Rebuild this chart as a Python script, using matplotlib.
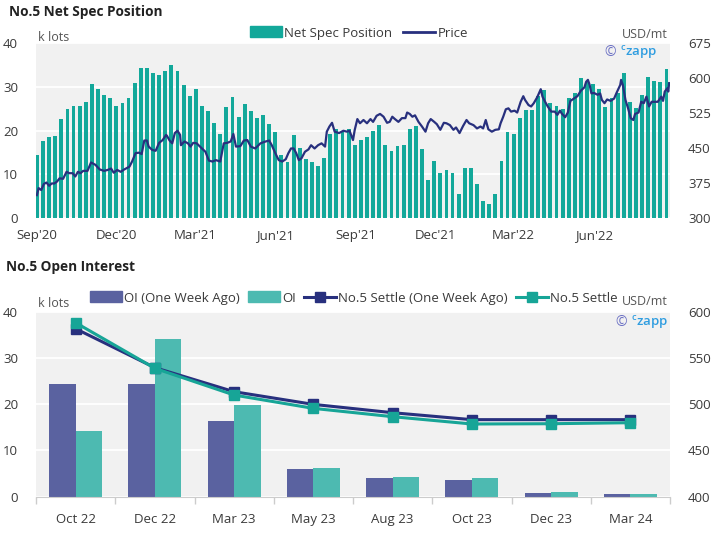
import numpy as np
import pandas as pd
import matplotlib
matplotlib.use('Agg')
import matplotlib.pyplot as plt
import matplotlib.dates as mdates
from matplotlib.patches import Patch
from matplotlib.lines import Line2D

plt.rcParams['font.family'] = ['Open Sans', 'DejaVu Sans']

# ---- top chart data: weekly net spec position (k lots), from 1 Sep 2020
spec_start = '2020-09-01'
net_spec = [14.3, 17.5, 18.6, 18.8, 22.7, 25.0, 25.7, 25.7, 26.6, 30.6,
            29.6, 28.2, 27.4, 25.7, 26.2, 27.4, 30.9, 34.4, 34.4, 33.1,
            32.7, 33.7, 35.0, 33.6, 30.5, 28.0, 29.4, 25.5, 24.5, 21.8,
            19.3, 25.3, 27.6, 23.0, 26.1, 24.5, 22.8, 23.5, 21.6, 19.7,
            14.5, 12.7, 19.0, 16.1, 13.6, 12.7, 11.8, 13.8, 19.1, 20.4,
            19.8, 20.3, 16.8, 17.8, 18.6, 20.0, 21.3, 16.8, 15.4, 16.5,
            16.8, 20.3, 21.0, 15.7, 8.7, 13.0, 10.2, 11.0, 10.4, 5.4,
            11.5, 11.5, 7.8, 3.9, 3.2, 5.4, 13.0, 19.7, 19.2, 22.8,
            24.7, 24.7, 28.0, 29.3, 26.2, 25.6, 24.9, 27.4, 28.6, 31.9,
            31.2, 30.6, 29.6, 25.4, 27.4, 28.5, 33.1, 26.6, 25.1, 28.1,
            32.2, 31.4, 31.2, 34.0]

# ---- price (USD/mt)
price_dates = [
    '2020-09-01', '2020-09-03', '2020-09-06', '2020-09-09', '2020-09-12', '2020-09-15',
    '2020-09-18', '2020-09-21', '2020-09-24', '2020-09-27', '2020-10-01', '2020-10-05',
    '2020-10-08', '2020-10-12', '2020-10-15', '2020-10-18', '2020-10-21', '2020-10-24',
    '2020-10-29', '2020-11-02', '2020-11-07', '2020-11-12', '2020-11-17', '2020-11-21',
    '2020-11-25', '2020-11-28', '2020-12-02', '2020-12-06', '2020-12-10', '2020-12-16',
    '2020-12-19', '2020-12-23', '2020-12-27', '2020-12-30', '2021-01-02', '2021-01-05',
    '2021-01-07', '2021-01-11', '2021-01-15', '2021-01-19', '2021-01-23', '2021-01-27',
    '2021-01-28', '2021-01-31', '2021-02-03', '2021-02-06', '2021-02-09', '2021-02-12',
    '2021-02-13', '2021-02-17', '2021-02-21', '2021-02-24', '2021-02-27', '2021-03-03',
    '2021-03-09', '2021-03-13', '2021-03-17', '2021-03-21', '2021-03-25', '2021-03-30',
    '2021-04-03', '2021-04-07', '2021-04-11', '2021-04-14', '2021-04-17', '2021-04-22',
    '2021-04-26', '2021-04-30', '2021-05-04', '2021-05-09', '2021-05-15', '2021-05-21',
    '2021-05-25', '2021-05-28', '2021-06-01', '2021-06-05', '2021-06-09', '2021-06-13',
    '2021-06-16', '2021-06-19', '2021-06-22', '2021-06-25', '2021-06-28', '2021-07-01',
    '2021-07-05', '2021-07-09', '2021-07-12', '2021-07-16', '2021-07-20', '2021-07-24',
    '2021-07-28', '2021-07-30', '2021-08-02', '2021-08-05', '2021-08-08', '2021-08-13',
    '2021-08-18', '2021-08-22', '2021-08-25', '2021-08-29', '2021-08-31', '2021-09-03',
    '2021-09-06', '2021-09-10', '2021-09-14', '2021-09-18', '2021-09-21', '2021-09-25',
    '2021-09-29', '2021-10-03', '2021-10-07', '2021-10-10', '2021-10-13', '2021-10-16',
    '2021-10-20', '2021-10-24', '2021-10-28', '2021-10-30', '2021-11-02', '2021-11-05',
    '2021-11-08', '2021-11-12', '2021-11-16', '2021-11-20', '2021-11-23', '2021-11-26',
    '2021-11-30', '2021-12-03', '2021-12-07', '2021-12-11', '2021-12-14', '2021-12-18',
    '2021-12-22', '2021-12-25', '2021-12-29', '2022-01-02', '2022-01-06', '2022-01-09',
    '2022-01-14', '2022-01-18', '2022-01-22', '2022-01-25', '2022-01-28', '2022-01-31',
    '2022-02-04', '2022-02-08', '2022-02-12', '2022-02-14', '2022-02-17', '2022-02-20',
    '2022-02-23', '2022-02-26', '2022-03-02', '2022-03-05', '2022-03-09', '2022-03-12',
    '2022-03-14', '2022-03-18', '2022-03-21', '2022-03-24', '2022-03-28', '2022-04-01',
    '2022-04-03', '2022-04-06', '2022-04-09', '2022-04-13', '2022-04-17', '2022-04-20',
    '2022-04-23', '2022-04-25', '2022-04-29', '2022-05-02', '2022-05-05', '2022-05-09',
    '2022-05-13', '2022-05-17', '2022-05-21', '2022-05-23', '2022-05-25', '2022-05-27',
    '2022-05-29', '2022-06-01', '2022-06-05', '2022-06-08', '2022-06-10', '2022-06-13',
    '2022-06-16', '2022-06-20', '2022-06-24', '2022-06-27', '2022-07-01', '2022-07-02',
    '2022-07-04', '2022-07-07', '2022-07-10', '2022-07-13', '2022-07-16', '2022-07-18',
    '2022-07-22', '2022-07-25', '2022-07-28', '2022-07-31', '2022-08-03', '2022-08-06',
    '2022-08-10', '2022-08-13', '2022-08-17', '2022-08-19', '2022-08-21', '2022-08-24',
    '2022-08-25', '2022-08-26']
price = [349, 364, 360, 373, 376, 369, 374, 374, 378, 385, 384, 399,
         396, 396, 389, 399, 396, 401, 401, 419, 414, 404, 401, 403,
         406, 397, 403, 399, 404, 410, 421, 439, 440, 437, 466, 466,
         453, 446, 444, 461, 467, 478, 476, 466, 460, 482, 487, 478,
         456, 464, 460, 453, 461, 460, 449, 442, 423, 421, 424, 421,
         460, 461, 464, 480, 453, 454, 466, 467, 453, 449, 460, 464,
         466, 456, 439, 424, 421, 426, 439, 449, 449, 439, 424, 428,
         442, 447, 456, 449, 456, 460, 453, 485, 496, 504, 485, 482,
         487, 485, 487, 467, 489, 512, 503, 510, 503, 512, 506, 519,
         523, 517, 504, 506, 517, 512, 506, 514, 514, 526, 523, 517,
         520, 506, 496, 485, 503, 512, 506, 501, 489, 504, 503, 499,
         489, 494, 482, 497, 510, 503, 499, 492, 496, 492, 510, 490,
         485, 489, 490, 503, 517, 533, 535, 528, 530, 526, 549, 561,
         553, 542, 539, 546, 559, 576, 560, 549, 539, 528, 528, 521,
         530, 524, 516, 526, 551, 556, 561, 573, 580, 592, 596, 585,
         567, 568, 564, 567, 553, 546, 554, 551, 556, 569, 585, 596,
         585, 553, 535, 514, 510, 523, 526, 549, 546, 560, 539, 549,
         549, 549, 560, 551, 571, 578, 571, 589]

# ---- bottom chart data
contracts = ['Oct 22', 'Dec 22', 'Mar 23', 'May 23', 'Aug 23', 'Oct 23', 'Dec 23', 'Mar 24']
oi_week_ago = [24.3, 24.4, 16.4, 5.9, 4.1, 3.7, 0.86, 0.5]
oi_now = [14.2, 34.2, 19.8, 6.2, 4.2, 4.0, 1.0, 0.58]
settle_week_ago = [581.6, 539.5, 513.5, 499.8, 490.8, 483.3, 483.3, 483.3]
settle_now = [588.1, 538.8, 509.9, 495.5, 486.5, 478.6, 478.9, 480.0]

TEAL = '#13a89a'
NAVY = '#28307e'
OI_OLD = '#5a62a0'
OI_NEW = '#4dbab1'
SETTLE_NEW = '#17a597'
BG = '#f1f1f1'
TXT = '#3a3a3a'
FS = 9.5
LOGO = r'$\mathregular{^c}$zapp'

fig = plt.figure(figsize=(7.15, 5.54), dpi=100)

# ================= top chart
ax1 = fig.add_axes([36 / 715, 1 - 218 / 554, 634 / 715, 175 / 554])
ax1.set_facecolor(BG)
spec_dates = pd.date_range(spec_start, periods=len(net_spec), freq='7D')
ax1.bar(spec_dates, net_spec, width=4.4, color=TEAL, zorder=2)
ax1.set_ylim(0, 40)
ax1.set_yticks([0, 10, 20, 30, 40])
ax1.set_axisbelow(True)
ax1.grid(axis='y', color='white', lw=1.3)
ax1.set_xlim(pd.Timestamp('2020-08-31'), pd.Timestamp('2022-08-27'))
ax1.xaxis.set_major_locator(mdates.MonthLocator(bymonth=[3, 6, 9, 12]))
ax1.xaxis.set_major_formatter(mdates.DateFormatter("%b'%y"))
ax1.tick_params(axis='both', length=0, labelsize=FS, labelcolor=TXT)
ax1.tick_params(axis='y', pad=13)
ax1.tick_params(axis='x', pad=8)
for s in ax1.spines.values():
    s.set_visible(False)

ax1r = ax1.twinx()
ax1r.plot(pd.to_datetime(price_dates), price, color=NAVY, lw=1.6, zorder=3)
ax1r.set_ylim(300, 675)
ax1r.set_yticks([300, 375, 450, 525, 600, 675])
ax1r.tick_params(axis='y', length=0, labelsize=FS, labelcolor=TXT, pad=13)
for s in ax1r.spines.values():
    s.set_visible(False)

ax1.text(0.003, 1.034, 'k lots', transform=ax1.transAxes, fontsize=9, color='#555555', va='center')
ax1.text(0.997, 1.046, 'USD/mt', transform=ax1.transAxes, fontsize=9, color='#555555', va='center', ha='right')
ax1.text(0.914, 0.943, '©', transform=ax1.transAxes, fontsize=10, color='#6b70c4', ha='right', va='center')
ax1.text(0.979, 0.943, LOGO, transform=ax1.transAxes, fontsize=9.5, color='#2f9de0', ha='right', va='center', fontweight='semibold')

fig.text(9 / 715, 1 - 12 / 554, 'No.5 Net Spec Position', fontsize=9.8, fontweight='bold', color='#222222', va='center')
h1 = [Patch(color=TEAL), Line2D([], [], color=NAVY, lw=2)]
fig.legend(h1, ['Net Spec Position', 'Price'], loc='center', bbox_to_anchor=(359 / 715, 1 - 33 / 554),
           ncol=2, frameon=False, fontsize=FS, handlelength=2.4, handleheight=0.9, handletextpad=0.2,
           columnspacing=0.8, labelcolor=TXT)

# ================= bottom chart
ax2 = fig.add_axes([36 / 715, 1 - 496.7 / 554, 634 / 715, 185 / 554])
ax2.set_facecolor(BG)
x = np.arange(len(contracts))
bw = 0.335
ax2.bar(x - bw / 2, oi_week_ago, bw, color=OI_OLD, zorder=2)
ax2.bar(x + bw / 2, oi_now, bw, color=OI_NEW, zorder=2)
ax2.set_xlim(-0.5, len(contracts) - 0.5)
ax2.set_ylim(0, 40)
ax2.set_yticks([0, 10, 20, 30, 40])
ax2.set_axisbelow(True)
ax2.grid(axis='y', color='white', lw=1.3)
ax2.set_xticks(x)
ax2.set_xticklabels(contracts)
ax2.set_xticks(np.arange(len(contracts) + 1) - 0.5, minor=True)
ax2.tick_params(axis='x', which='major', length=0, labelsize=FS, labelcolor=TXT, pad=12)
ax2.tick_params(axis='x', which='minor', length=5, color='#cccccc', width=1)
ax2.tick_params(axis='y', length=0, labelsize=FS, labelcolor=TXT, pad=13)
for k, s in ax2.spines.items():
    s.set_visible(k == 'bottom')
ax2.spines['bottom'].set_color('#cccccc')

ax2r = ax2.twinx()
ax2r.plot(x, settle_week_ago, color=NAVY, lw=2.2, marker='s', ms=6.5, zorder=3)
ax2r.plot(x, settle_now, color=SETTLE_NEW, lw=2.2, marker='s', ms=6.5, zorder=4)
ax2r.set_ylim(400, 600)
ax2r.set_yticks([400, 450, 500, 550, 600])
ax2r.tick_params(axis='y', length=0, labelsize=FS, labelcolor=TXT, pad=13)
for s in ax2r.spines.values():
    s.set_visible(False)

ax2.text(0.003, 1.042, 'k lots', transform=ax2.transAxes, fontsize=9, color='#555555', va='center')
ax2.text(0.997, 1.053, 'USD/mt', transform=ax2.transAxes, fontsize=9, color='#555555', va='center', ha='right')
ax2.text(0.932, 0.944, '©', transform=ax2.transAxes, fontsize=10, color='#6b70c4', ha='right', va='center')
ax2.text(0.997, 0.944, LOGO, transform=ax2.transAxes, fontsize=9.5, color='#2f9de0', ha='right', va='center', fontweight='semibold')

fig.text(6 / 715, 1 - 267 / 554, 'No.5 Open Interest', fontsize=9.8, fontweight='bold', color='#222222', va='center')
h2 = [Patch(color=OI_OLD), Patch(color=OI_NEW),
      Line2D([], [], color=NAVY, lw=2.2, marker='s', ms=6.5),
      Line2D([], [], color=SETTLE_NEW, lw=2.2, marker='s', ms=6.5)]
fig.legend(h2, ['OI (One Week Ago)', 'OI', 'No.5 Settle (One Week Ago)', 'No.5 Settle'], loc='center',
           bbox_to_anchor=(354 / 715, 1 - 298 / 554), ncol=4, frameon=False, fontsize=FS,
           handlelength=2.4, handleheight=0.9, handletextpad=0.2, columnspacing=0.6, labelcolor=TXT)

fig.savefig('out.png', dpi=100, facecolor='white')
